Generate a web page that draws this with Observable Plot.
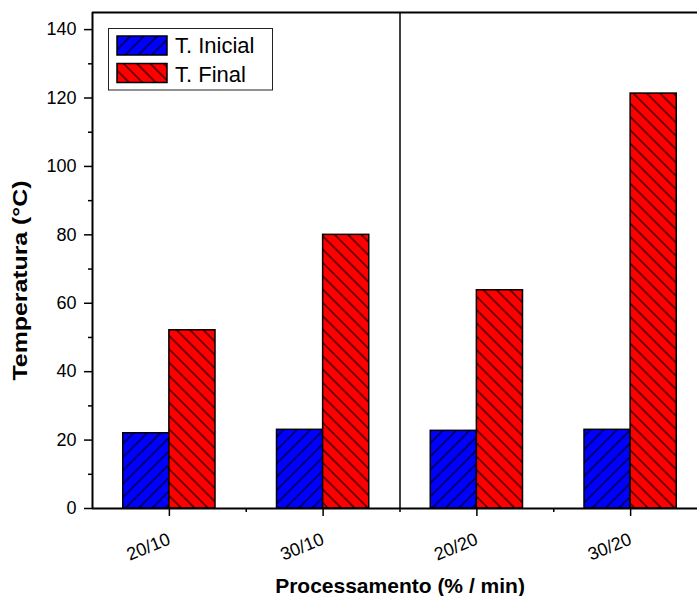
<!DOCTYPE html>
<html>
<head>
<meta charset="utf-8">
<script src="https://cdn.jsdelivr.net/npm/d3@7"></script>
<script src="https://cdn.jsdelivr.net/npm/@observablehq/plot@0.6"></script>
<style>
  html, body { margin: 0; padding: 0; background: white; }
  #chart { position: relative; width: 697px; height: 596px; }
</style>
</head>
<body>
<div id="chart"></div>
<script>
const categories = ["20/10", "30/10", "20/20", "30/20"];
const seriesNames = ["T. Inicial", "T. Final"];
const tInicial = [22.0, 23.0, 22.7, 23.0];
const tFinal = [52.1, 80.0, 63.8, 121.3];
const yTicks = [0, 20, 40, 60, 80, 100, 120, 140];
const yMinorTicks = [10, 30, 50, 70, 90, 110, 130];
const xLabel = "Processamento (% / min)";
const yLabel = "Temperatura (°C)";

const inicialRows = categories.map((c, i) => ({i, cat: c, value: tInicial[i]}));
const finalRows = categories.map((c, i) => ({i, cat: c, value: tFinal[i]}));
const xTicks = categories.map((c, i) => i);
const xMinorTicks = categories.slice(1).map((c, i) => i + 0.5);

const FONT = "'Liberation Sans', Arial, sans-serif";
const groupHalf = 0.3;

const svg = Plot.plot({
  width: 697,
  height: 596,
  marginLeft: 92,
  marginRight: 0,
  marginTop: 12,
  marginBottom: 88,
  style: {fontFamily: FONT, fontSize: "17px", color: "black", background: "white", overflow: "visible"},
  x: {type: "linear", domain: [-0.5, 3.5], range: [92, 707]},
  y: {domain: [0, 145]},
  marks: [
    Plot.rectY(inicialRows, {x1: d => d.i - groupHalf, x2: d => d.i, y: "value", fill: "url(#hatchBlue)", stroke: "black", strokeWidth: 1.5}),
    Plot.rectY(finalRows, {x1: d => d.i, x2: d => d.i + groupHalf, y: "value", fill: "url(#hatchRed)", stroke: "black", strokeWidth: 1.5}),
    Plot.ruleX([1.5], {stroke: "black", strokeWidth: 1.5}),
    Plot.ruleX([-0.5], {stroke: "black", strokeWidth: 2}),
    Plot.ruleY([0], {stroke: "black", strokeWidth: 2}),
    Plot.ruleY([145], {stroke: "black", strokeWidth: 2}),
    Plot.axisY(yTicks, {tickSize: 8, tickPadding: 8, strokeWidth: 1.5, fontSize: 18, label: null}),
    Plot.axisY(yMinorTicks, {tickSize: 4, tickFormat: () => "", strokeWidth: 1.5, label: null}),
    Plot.axisX(xTicks, {tickSize: 8, tickPadding: 22, tickRotate: -22, tickFormat: i => categories[i], strokeWidth: 1.5, fontSize: 18, label: null}),
    Plot.axisX(xMinorTicks, {tickSize: 4, tickFormat: () => "", strokeWidth: 1.5, label: null}),
    Plot.text([xLabel], {frameAnchor: "bottom", dx: 5, dy: 78, fontWeight: "bold", fontSize: 21, lineAnchor: "middle", textAnchor: "middle", className: "xtitle"}),
    Plot.text([yLabel], {frameAnchor: "left", rotate: -90, dx: -72, dy: 20, fontWeight: "bold", fontSize: 21, lineAnchor: "middle", textAnchor: "middle", className: "ytitle"})
  ]
});

// stretch y title to the reference length
d3.select(svg).selectAll(".ytitle text").attr("textLength", 200).attr("lengthAdjust", "spacingAndGlyphs");

// hatch patterns
const defs = d3.select(svg).insert("defs", ":first-child");
function hatch(id, color, angle) {
  const s = 9.43;
  const p = defs.append("pattern")
    .attr("id", id)
    .attr("patternUnits", "userSpaceOnUse")
    .attr("width", s).attr("height", s)
    .attr("patternTransform", `rotate(${angle})`);
  p.append("rect").attr("width", s).attr("height", s).attr("fill", color);
  p.append("line").attr("x1", s / 2).attr("y1", -1).attr("x2", s / 2).attr("y2", s + 1)
    .attr("stroke", "black").attr("stroke-width", 1.1);
}
hatch("hatchBlue", "#0000ff", 45);
hatch("hatchRed", "#ff0000", -45);

// legend
const lg = d3.select(svg).append("g").style("font-family", FONT);
lg.append("rect").attr("x", 108.5).attr("y", 28.5).attr("width", 164).attr("height", 61.5)
  .attr("fill", "white").attr("stroke", "#222").attr("stroke-width", 1);
const fills = ["url(#hatchBlue)", "url(#hatchRed)"];
const swY = [36, 63.5];
const txtY = [53, 82];
seriesNames.forEach((name, k) => {
  lg.append("rect").attr("x", 117).attr("y", swY[k]).attr("width", 50).attr("height", 19)
    .attr("fill", fills[k]).attr("stroke", "black").attr("stroke-width", 1.5);
  lg.append("text").attr("x", 175).attr("y", txtY[k])
    .style("font-size", "22px").style("text-anchor", "start").attr("fill", "black").text(name);
});

document.getElementById("chart").appendChild(svg);
</script>
</body>
</html>
